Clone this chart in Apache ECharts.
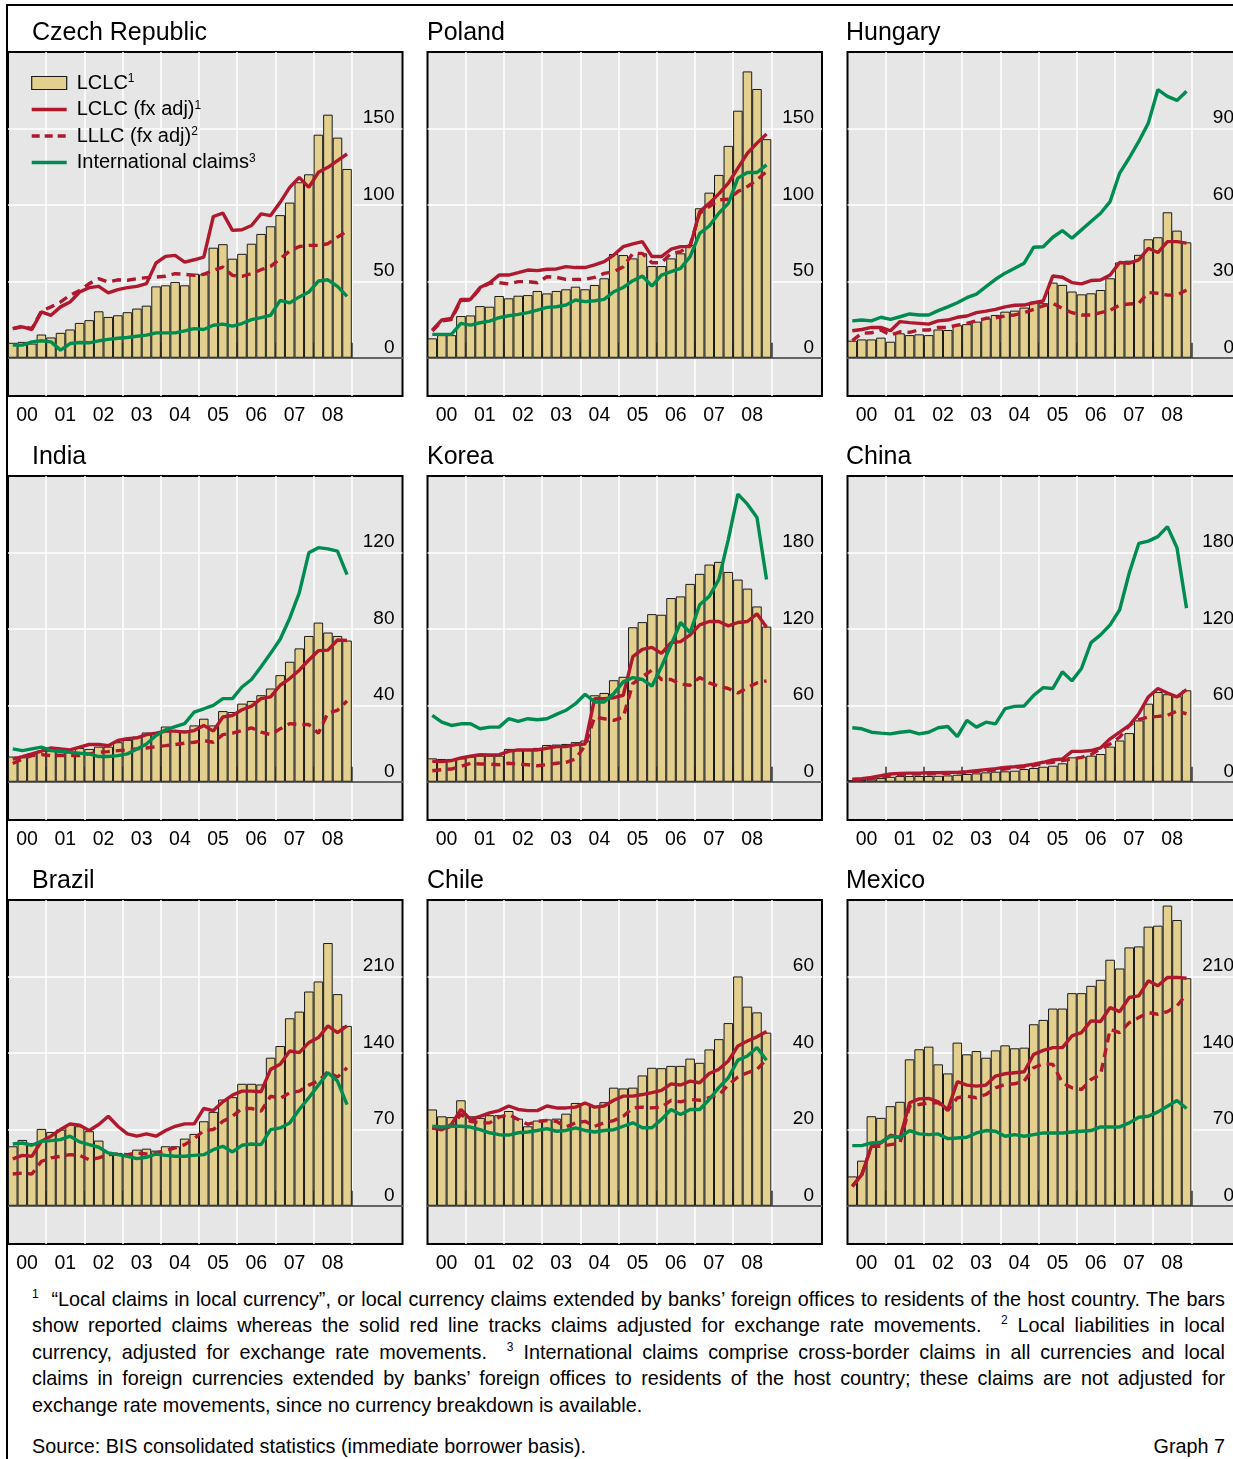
<!DOCTYPE html>
<html>
<head>
<meta charset="utf-8">
<title>Local claims of foreign banks</title>
<script src="https://cdn.jsdelivr.net/npm/echarts@6/dist/echarts.min.js"></script>
<style>
  body { margin: 0; background: #fff; overflow: hidden; }
  .frame { position: absolute; left: 6px; top: 4px; width: 1300px; height: 1500px;
           border-left: 2px solid #000; border-top: 2px solid #000; }
  #chart { position: absolute; left: 0; top: 0; width: 1250px; height: 1275px; }
  .note { position: absolute; left: 32px; width: 1193px; font: 19.8px/26px "Liberation Sans", Arial, sans-serif;
          color: #000; text-align: justify; text-align-last: justify; }
  .note.last { text-align: left; text-align-last: left; }
  .note sup { font-size: 12px; vertical-align: 8px; line-height: 0; }
  .src { position: absolute; top: 1433px; left: 32px; width: 1193px; font: 19.8px/26px "Liberation Sans", Arial, sans-serif; }
  .src span { float: right; }
</style>
</head>
<body>
<div class="frame"></div>
<div id="chart"></div>
<div class="note" style="top:1286px"><sup>1</sup> &nbsp;“Local claims in local currency”, or local currency claims extended by banks’ foreign offices to residents of the host country. The bars</div>
<div class="note" style="top:1312px">show reported claims whereas the solid red line tracks claims adjusted for exchange rate movements. &nbsp;<sup>2</sup> Local liabilities in local</div>
<div class="note" style="top:1339px">currency, adjusted for exchange rate movements. &nbsp;<sup>3</sup> International claims comprise cross-border claims in all currencies and local</div>
<div class="note" style="top:1365px">claims in foreign currencies extended by banks’ foreign offices to residents of the host country; these claims are not adjusted for</div>
<div class="note last" style="top:1392px">exchange rate movements, since no currency breakdown is available.</div>
<div class="src">Source: BIS consolidated statistics (immediate borrower basis).<span>Graph 7</span></div>

<script>
// quarterly, 2000 Q1 .. 2008 Q4, USD bn
var YEARS = ['00', '01', '02', '03', '04', '05', '06', '07', '08'];

var czLclc = [9.8, 10.4, 9.3, 15.2, 13.3, 16.3, 18.5, 22.8, 24.6, 30.4, 26.7, 27.8, 29.8, 32.2, 34.1, 46.7, 47.4, 49.6, 47.4, 55.0, 54.6, 72.0, 74.3, 64.8, 68.0, 74.6, 81.0, 86.0, 93.3, 101.5, 114.8, 120.0, 145.9, 159.0, 144.0, 123.5];
var czLclcFx = [19.1, 20.2, 18.5, 30.0, 27.8, 33.3, 36.5, 43.0, 45.9, 46.7, 42.4, 44.6, 45.9, 46.7, 48.5, 62.0, 66.3, 67.0, 62.6, 64.1, 65.9, 92.4, 94.6, 83.3, 83.7, 86.5, 94.1, 93.0, 101.7, 111.5, 118.0, 111.5, 121.3, 124.6, 129.0, 133.3];
var czLllc = [19.0, 20.7, 19.0, 30.6, 33.3, 36.5, 40.9, 44.0, 48.5, 51.7, 49.6, 51.0, 50.7, 51.7, 52.4, 52.8, 53.3, 55.0, 54.6, 53.9, 54.6, 57.2, 59.3, 53.9, 53.3, 55.0, 57.6, 59.8, 64.8, 69.8, 72.8, 73.5, 73.5, 74.6, 78.9, 82.8];
var czIntl = [8.3, 8.3, 10.4, 11.1, 10.4, 5.0, 9.3, 10.0, 9.8, 11.1, 12.0, 12.8, 13.3, 14.1, 14.8, 16.3, 16.3, 16.3, 17.6, 19.1, 18.5, 21.3, 22.0, 20.7, 22.4, 25.0, 26.3, 27.8, 37.6, 35.9, 39.8, 43.0, 50.2, 51.0, 46.7, 40.2];

var plLclc = [12.7, 14.8, 14.8, 27.3, 27.7, 33.8, 33.4, 40.4, 38.9, 40.6, 41.0, 43.7, 42.1, 43.7, 44.8, 46.5, 44.8, 47.6, 52.0, 67.9, 67.2, 65.0, 68.3, 60.0, 60.0, 65.0, 68.3, 73.8, 97.8, 108.0, 119.6, 138.6, 161.6, 187.3, 175.8, 143.0];
var plLclcFx = [18.1, 24.7, 25.8, 38.2, 38.2, 46.0, 49.1, 54.1, 54.1, 55.7, 57.4, 57.0, 57.9, 58.1, 59.6, 59.0, 59.0, 60.7, 62.9, 67.2, 72.7, 74.5, 76.0, 66.2, 66.2, 71.0, 72.7, 72.7, 95.6, 101.0, 107.2, 114.2, 124.0, 133.8, 140.4, 146.3];
var plLllc = [17.5, 24.0, 25.0, 37.5, 37.8, 45.3, 48.7, 49.1, 48.3, 49.8, 49.8, 49.1, 53.0, 52.6, 51.3, 51.3, 51.3, 52.6, 55.2, 56.3, 59.6, 68.3, 68.3, 62.2, 62.2, 68.3, 69.4, 73.8, 94.5, 98.9, 103.3, 103.7, 108.7, 112.0, 116.4, 121.8];
var plIntl = [15.3, 15.3, 15.3, 22.5, 21.4, 22.9, 24.0, 26.2, 27.5, 28.4, 29.5, 31.2, 33.0, 33.4, 34.5, 37.8, 36.7, 37.3, 38.2, 43.2, 46.0, 50.4, 53.5, 46.9, 54.1, 56.3, 58.5, 66.2, 81.4, 86.2, 94.5, 101.0, 117.5, 121.2, 121.2, 126.2];

var huLclc = [6.7, 7.2, 7.2, 7.9, 6.3, 9.6, 8.9, 9.2, 8.9, 11.1, 10.9, 12.8, 13.2, 14.2, 15.5, 16.8, 18.1, 18.5, 19.7, 22.0, 21.4, 29.5, 28.6, 26.0, 24.9, 25.3, 26.6, 31.2, 37.4, 38.1, 40.4, 46.5, 47.3, 57.1, 49.9, 45.3];
var huLclcFx = [10.6, 11.1, 11.9, 11.9, 10.6, 14.2, 13.8, 13.5, 13.2, 14.5, 14.8, 15.9, 16.4, 17.7, 18.3, 19.0, 20.0, 20.6, 20.7, 21.6, 22.3, 32.1, 31.6, 29.5, 29.0, 30.3, 30.5, 32.5, 37.4, 37.1, 38.4, 43.0, 41.3, 45.6, 45.6, 45.0];
var huLllc = [6.7, 9.6, 9.8, 10.9, 8.9, 10.2, 10.0, 10.9, 10.9, 11.9, 11.9, 12.8, 13.5, 14.5, 15.5, 15.7, 16.4, 16.8, 17.7, 19.0, 20.4, 21.4, 19.4, 17.7, 16.8, 16.8, 17.7, 18.7, 20.7, 21.1, 21.4, 25.6, 25.3, 24.6, 24.6, 26.6];
var huIntl = [14.5, 14.8, 14.5, 15.9, 15.1, 16.1, 17.2, 16.8, 16.8, 18.5, 20.0, 21.6, 23.6, 25.0, 27.9, 30.8, 33.2, 35.1, 37.1, 43.4, 43.6, 47.3, 49.9, 46.9, 50.2, 53.5, 56.7, 61.3, 72.5, 78.4, 84.9, 92.1, 105.2, 102.6, 101.0, 104.6];

var inLclc = [13.2, 12.8, 14.9, 16.3, 16.3, 15.4, 16.0, 17.7, 17.2, 18.4, 18.4, 20.7, 21.9, 23.7, 25.8, 25.8, 28.9, 26.8, 26.8, 29.5, 33.0, 29.5, 37.0, 36.5, 40.9, 42.3, 45.3, 48.8, 55.8, 62.8, 69.8, 76.3, 83.3, 78.1, 76.3, 73.9];
var inLclcFx = [11.9, 13.2, 14.6, 16.0, 17.7, 17.2, 16.7, 18.1, 19.5, 19.5, 18.9, 21.6, 22.5, 23.0, 24.7, 25.4, 26.5, 26.5, 26.0, 26.8, 29.5, 26.5, 33.9, 34.7, 37.7, 39.6, 43.5, 44.4, 50.5, 54.0, 58.4, 63.7, 68.6, 68.9, 74.2, 73.9];
var inLllc = [9.6, 11.9, 13.7, 14.2, 13.7, 13.7, 13.7, 13.7, 14.6, 15.4, 15.8, 16.3, 16.7, 17.2, 17.7, 18.4, 18.9, 19.5, 20.2, 20.7, 21.6, 20.7, 24.7, 25.4, 26.8, 28.2, 26.0, 24.7, 27.7, 30.4, 30.0, 30.0, 25.4, 36.0, 37.4, 42.3];
var inIntl = [17.2, 16.3, 17.2, 18.1, 16.3, 16.0, 15.4, 14.9, 14.6, 13.2, 13.2, 13.7, 14.6, 17.2, 19.8, 24.2, 27.2, 28.9, 30.4, 36.5, 38.2, 40.0, 43.5, 43.5, 49.6, 53.5, 60.2, 67.2, 74.6, 85.6, 98.8, 119.8, 122.5, 121.9, 120.7, 108.4];

var krLclc = [18.4, 17.9, 17.9, 18.4, 19.7, 20.5, 20.5, 20.5, 25.8, 25.8, 25.8, 26.6, 28.9, 29.2, 29.7, 31.1, 32.4, 67.9, 69.7, 79.7, 82.4, 121.3, 125.3, 131.6, 131.1, 144.2, 145.5, 155.3, 163.2, 170.5, 172.6, 164.7, 158.7, 151.6, 137.6, 121.8];
var krLclcFx = [16.1, 15.8, 16.6, 18.7, 20.0, 21.3, 21.1, 21.3, 23.9, 25.0, 25.0, 25.0, 26.3, 27.6, 27.6, 29.2, 29.7, 65.3, 65.3, 66.0, 67.9, 98.2, 103.9, 105.5, 100.8, 109.2, 110.0, 115.3, 123.2, 125.8, 125.8, 122.4, 125.0, 125.8, 131.8, 121.3];
var krLllc = [8.7, 9.5, 10.0, 12.1, 14.5, 13.9, 13.9, 13.4, 14.5, 13.9, 13.4, 12.6, 13.4, 14.5, 15.3, 17.9, 28.4, 50.8, 49.5, 48.2, 50.8, 77.1, 82.4, 87.6, 80.3, 80.3, 76.6, 75.8, 81.8, 77.6, 75.0, 73.2, 69.7, 73.9, 77.6, 79.2];
var krIntl = [52.1, 46.8, 44.2, 45.5, 45.5, 41.6, 42.9, 42.9, 49.5, 47.4, 49.5, 48.7, 49.5, 52.9, 56.1, 61.3, 68.7, 62.6, 62.6, 69.2, 78.4, 81.8, 80.3, 75.0, 90.3, 107.4, 125.0, 117.1, 138.9, 145.5, 158.7, 190.3, 225.8, 217.9, 207.4, 158.7];

var cnLclc = [1.3, 1.3, 1.8, 2.9, 3.9, 4.5, 4.5, 4.5, 4.5, 4.7, 5.0, 5.5, 6.1, 6.6, 7.4, 7.9, 8.2, 8.7, 10.0, 10.8, 11.8, 12.6, 14.5, 19.2, 19.7, 20.5, 21.8, 27.6, 32.4, 38.2, 48.2, 61.3, 70.5, 68.7, 67.1, 71.8];
var cnLclcFx = [2.1, 2.4, 3.4, 4.7, 6.1, 6.6, 6.8, 6.8, 7.1, 7.1, 7.4, 7.4, 7.9, 8.7, 9.5, 10.3, 11.3, 11.8, 12.6, 13.9, 15.3, 17.1, 17.9, 23.9, 23.9, 24.5, 26.6, 33.7, 38.9, 44.2, 53.4, 66.6, 73.2, 69.7, 66.6, 72.4];
var cnLllc = [1.3, 1.8, 2.6, 3.9, 5.3, 5.5, 6.1, 6.1, 6.1, 6.6, 6.6, 7.1, 7.4, 8.2, 8.7, 9.2, 10.0, 11.3, 11.8, 12.6, 14.5, 15.3, 16.6, 17.9, 19.2, 21.3, 25.8, 29.7, 35.0, 44.2, 48.7, 50.8, 51.3, 52.1, 55.5, 53.4];
var cnIntl = [42.4, 41.6, 38.9, 38.2, 37.6, 38.9, 39.7, 37.6, 38.9, 42.4, 43.4, 35.5, 48.2, 42.9, 46.8, 45.5, 57.4, 59.2, 59.5, 67.9, 73.9, 73.2, 86.3, 79.2, 88.9, 109.2, 115.3, 123.2, 135.0, 163.9, 187.1, 188.9, 192.4, 200.3, 183.7, 136.3];

var brLclc = [54.5, 60.3, 57.5, 70.4, 67.6, 69.8, 74.4, 72.8, 68.3, 59.7, 49.3, 48.4, 46.2, 51.4, 52.3, 50.5, 54.5, 54.5, 61.5, 65.8, 77.4, 86.0, 97.3, 99.5, 111.7, 111.7, 111.1, 135.6, 146.3, 171.7, 177.8, 196.2, 205.4, 240.6, 193.8, 164.7];
var brLclcFx = [42.9, 46.2, 45.3, 59.1, 63.7, 69.8, 75.0, 73.8, 68.9, 74.4, 82.0, 72.8, 65.8, 63.7, 65.8, 63.7, 68.9, 72.8, 75.0, 75.0, 89.1, 87.2, 95.2, 101.3, 105.0, 105.0, 104.4, 124.9, 129.5, 141.7, 140.2, 149.4, 154.0, 164.7, 158.6, 164.7];
var brLllc = [29.1, 30.0, 29.1, 40.7, 43.8, 45.3, 46.8, 46.2, 42.2, 43.8, 46.8, 47.4, 46.8, 48.4, 47.4, 48.4, 50.5, 53.0, 56.0, 61.5, 68.9, 69.8, 77.4, 82.0, 89.1, 89.1, 86.6, 100.4, 98.3, 103.5, 105.0, 110.5, 114.2, 122.7, 117.8, 126.4];
var brIntl = [56.6, 57.5, 55.4, 59.1, 59.7, 60.6, 63.7, 58.5, 56.0, 53.6, 48.4, 46.8, 45.3, 43.2, 44.4, 47.4, 46.2, 45.3, 45.3, 46.2, 46.8, 51.4, 54.5, 49.3, 55.4, 56.6, 56.0, 69.8, 71.3, 75.9, 88.2, 98.9, 110.5, 121.8, 114.2, 92.7];

var clLclc = [25.2, 23.4, 23.2, 27.6, 23.4, 23.0, 23.7, 23.7, 24.8, 22.8, 20.8, 22.3, 22.6, 22.8, 24.1, 26.9, 26.9, 26.1, 27.1, 30.9, 30.7, 30.9, 34.1, 36.1, 36.0, 36.6, 36.6, 38.5, 37.4, 40.9, 43.6, 47.8, 60.0, 52.1, 50.6, 45.3];
var clLclcFx = [20.4, 19.9, 21.3, 25.2, 22.6, 23.4, 24.3, 24.9, 26.1, 25.2, 24.9, 24.9, 26.1, 25.6, 25.6, 25.8, 26.9, 25.8, 26.1, 27.6, 28.7, 28.7, 29.1, 29.6, 30.2, 31.9, 31.6, 32.6, 32.2, 34.6, 35.7, 37.9, 41.8, 43.1, 44.2, 45.6];
var clLllc = [20.4, 19.9, 20.8, 23.9, 22.1, 21.7, 21.7, 23.2, 23.9, 22.6, 21.3, 22.1, 22.3, 22.1, 20.6, 21.7, 22.1, 20.8, 21.7, 22.3, 23.4, 25.6, 25.8, 25.6, 25.8, 27.6, 27.2, 27.8, 27.6, 28.3, 29.0, 31.6, 33.7, 34.8, 35.7, 38.3];
var clIntl = [20.8, 20.6, 20.8, 20.8, 20.6, 19.9, 19.1, 18.6, 18.5, 19.1, 19.3, 19.7, 20.2, 19.5, 19.7, 20.4, 19.7, 19.3, 19.7, 19.9, 20.8, 21.7, 20.4, 20.4, 22.6, 25.2, 23.9, 25.2, 25.2, 27.8, 30.9, 33.5, 38.1, 39.2, 41.4, 38.1];

var mxLclc = [26.9, 41.3, 82.0, 80.5, 91.2, 95.2, 134.1, 143.3, 145.7, 129.5, 121.2, 149.4, 138.7, 141.7, 135.6, 142.3, 146.9, 144.2, 144.8, 166.2, 170.2, 180.6, 180.6, 194.7, 194.7, 201.4, 206.9, 225.3, 217.3, 236.6, 237.5, 255.6, 256.5, 274.9, 261.7, 208.4];
var mxLclcFx = [17.8, 28.5, 54.5, 57.5, 64.6, 62.1, 94.3, 97.9, 98.3, 95.2, 88.2, 113.6, 110.5, 109.6, 110.5, 118.8, 120.9, 121.8, 122.7, 138.7, 142.3, 144.8, 144.8, 155.5, 158.6, 169.3, 168.7, 181.5, 177.8, 190.7, 192.2, 206.0, 201.4, 209.1, 209.1, 208.4];
var mxLllc = [17.8, 28.5, 54.5, 54.5, 56.0, 57.5, 91.2, 92.7, 94.3, 94.3, 87.2, 98.9, 100.4, 98.9, 101.9, 108.0, 111.1, 111.7, 114.2, 126.4, 130.1, 129.5, 112.6, 108.0, 106.5, 115.7, 120.3, 161.6, 158.6, 167.7, 172.3, 176.9, 175.4, 177.8, 183.0, 193.8];
var mxIntl = [55.1, 55.1, 57.5, 58.2, 63.7, 62.7, 68.9, 65.8, 65.2, 65.8, 61.5, 62.1, 62.7, 66.7, 68.9, 68.3, 63.7, 65.2, 63.7, 65.2, 66.7, 66.7, 66.7, 67.6, 68.3, 68.9, 72.2, 72.2, 72.2, 75.9, 81.1, 82.0, 86.0, 91.2, 96.4, 89.1];

// y tick labels per scale
var TICKS_50 = [0, 50, 100, 150];
var TICKS_30 = [0, 30, 60, 90];
var TICKS_40 = [0, 40, 80, 120];
var TICKS_60 = [0, 60, 120, 180];
var TICKS_70 = [0, 70, 140, 210];
var TICKS_20 = [0, 20, 40, 60];

var PANELS = [
  {title: 'Czech Republic', max: 200, ticks: TICKS_50, bars: czLclc, fx: czLclcFx, lllc: czLllc, intl: czIntl},
  {title: 'Poland', max: 200, ticks: TICKS_50, bars: plLclc, fx: plLclcFx, lllc: plLllc, intl: plIntl},
  {title: 'Hungary', max: 120, ticks: TICKS_30, bars: huLclc, fx: huLclcFx, lllc: huLllc, intl: huIntl},
  {title: 'India', max: 160, ticks: TICKS_40, bars: inLclc, fx: inLclcFx, lllc: inLllc, intl: inIntl},
  {title: 'Korea', max: 240, ticks: TICKS_60, bars: krLclc, fx: krLclcFx, lllc: krLllc, intl: krIntl},
  {title: 'China', max: 240, ticks: TICKS_60, bars: cnLclc, fx: cnLclcFx, lllc: cnLllc, intl: cnIntl},
  {title: 'Brazil', max: 280, ticks: TICKS_70, bars: brLclc, fx: brLclcFx, lllc: brLllc, intl: brIntl},
  {title: 'Chile', max: 80, ticks: TICKS_20, bars: clLclc, fx: clLclcFx, lllc: clLllc, intl: clIntl},
  {title: 'Mexico', max: 280, ticks: TICKS_70, bars: mxLclc, fx: mxLclcFx, lllc: mxLllc, intl: mxIntl}
];

var LEGEND_NAMES = ['LCLC', 'LCLC (fx adj)', 'LLLC (fx adj)', 'International claims'];
var LEGEND_SUP = {'LCLC': '1', 'LCLC (fx adj)': '1', 'LLLC (fx adj)': '2', 'International claims': '3'};

var FONT = '"Liberation Sans", Arial, sans-serif';
var BAR_COLOR = '#e3d08f';
var RED = '#b0182e';
var GREEN = '#008c50';
var BG = '#e6e6e6';
var LINE_W = 3.4;
var DASH = [9, 6];

// panel geometry
var COL_LEFT = [8, 427.5, 847.5];
var ROW_TOP = [52, 476, 900];
var TITLE_X = [32, 427, 846];
var PANEL_W = 394.5;
var PANEL_H = 344;
var QW = 9.55;                 // px per quarter
var X_MAX = PANEL_W / QW;      // quarters across the panel

var yearEdges = YEARS.map(function (y, k) { return (k + 1) * 4; });
var yearMids = YEARS.map(function (y, k) { return k * 4 + 2; });

function pts (arr) {
  return arr.map(function (v, q) { return [q + 0.5, v]; });
}

var grids = [];
var xAxes = [];
var yAxes = [];
var series = [];
var graphics = [];

PANELS.forEach(function (p, i) {
  var col = i % 3;
  var row = Math.floor(i / 3);
  grids.push({
    left: COL_LEFT[col], top: ROW_TOP[row], width: PANEL_W, height: PANEL_H,
    show: true, backgroundColor: BG, borderColor: '#000', borderWidth: 2
  });
  xAxes.push({
    gridIndex: i, type: 'value', min: 0, max: X_MAX, position: 'bottom',
    axisLine: {show: false},
    axisTick: {show: true, inside: true, length: 15, customValues: yearEdges, lineStyle: {color: '#333', width: 1.5}},
    axisLabel: {
      customValues: yearMids, margin: 10, fontSize: 19.5, color: '#000', fontFamily: FONT,
      formatter: function (v) { return YEARS[Math.round((v - 2) / 4)]; }
    },
    splitLine: {show: true, lineStyle: {color: '#fff', width: 1.5}}
  });
  yAxes.push({
    gridIndex: i, type: 'value', position: 'right', min: -p.max / 8, max: p.max,
    axisLine: {show: false},
    axisTick: {show: false, customValues: p.ticks},
    axisLabel: {
      inside: true, customValues: p.ticks, margin: 8, fontSize: 19, color: '#000', fontFamily: FONT,
      verticalAlign: 'bottom', padding: [0, 0, 1, 0]
    },
    splitLine: {show: true, lineStyle: {color: '#fff', width: 1.5}}
  });

  series.push({
    type: 'bar', name: 'LCLC', xAxisIndex: i, yAxisIndex: i, data: pts(p.bars), barWidth: QW,
    itemStyle: {color: BAR_COLOR, borderColor: '#1a1a1a', borderWidth: 1},
    markLine: {
      silent: true, symbol: 'none', label: {show: false}, animation: false,
      lineStyle: {color: '#333', width: 1.5, type: 'solid'},
      data: [{yAxis: 0}]
    },
    z: 2
  });
  series.push({
    type: 'line', name: 'LLLC (fx adj)', xAxisIndex: i, yAxisIndex: i, data: pts(p.lllc),
    symbol: 'none', lineStyle: {color: RED, width: LINE_W, type: DASH}, itemStyle: {color: RED}, z: 3
  });
  series.push({
    type: 'line', name: 'LCLC (fx adj)', xAxisIndex: i, yAxisIndex: i, data: pts(p.fx),
    symbol: 'none', lineStyle: {color: RED, width: LINE_W}, itemStyle: {color: RED}, z: 4
  });
  series.push({
    type: 'line', name: 'International claims', xAxisIndex: i, yAxisIndex: i, data: pts(p.intl),
    symbol: 'none', lineStyle: {color: GREEN, width: LINE_W}, itemStyle: {color: GREEN}, z: 5
  });

  graphics.push({
    type: 'text', x: TITLE_X[col], y: ROW_TOP[row] - 19,
    style: {text: p.title, font: '25px ' + FONT, fill: '#000', verticalAlign: 'middle'}
  });
});

// legend entries: plain rect for the bars, bare lines (no marker) for the rest
var legendData = LEGEND_NAMES.map(function (name, k) {
  if (k === 0) {
    return {name: name, icon: 'rect', itemStyle: {borderColor: '#1a1a1a', borderWidth: 1.2}};
  }
  return {
    name: name,
    itemStyle: {opacity: 0},
    lineStyle: {width: LINE_W, type: k === 2 ? [8, 5] : 'solid'}
  };
});

var option = {
  animation: false,
  textStyle: {fontFamily: FONT},
  grid: grids,
  xAxis: xAxes,
  yAxis: yAxes,
  legend: {
    data: legendData, orient: 'vertical', left: 30, top: 73, padding: 0,
    itemWidth: 35, itemHeight: 13, itemGap: 6.5, selectedMode: false,
    formatter: function (name) { return name + '{sup|' + LEGEND_SUP[name] + '}'; },
    textStyle: {
      fontSize: 20, color: '#000', lineHeight: 20, padding: [0, 0, 0, 5],
      rich: {sup: {fontSize: 12, lineHeight: 12, verticalAlign: 'top'}}
    }
  },
  graphic: graphics,
  series: series
};

var chart = echarts.init(document.getElementById('chart'));
chart.setOption(option);
</script>
</body>
</html>
